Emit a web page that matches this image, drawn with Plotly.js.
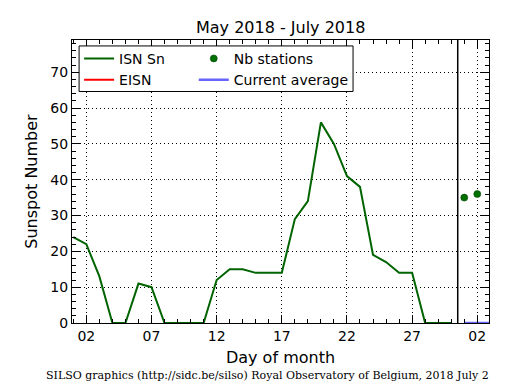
<!DOCTYPE html>
<html>
<head>
<meta charset="utf-8">
<script src="https://cdn.plot.ly/plotly-3.0.1.min.js"></script>
<style>html,body{margin:0;padding:0;background:#fff;}#chart{width:515px;height:390px;}</style>
</head>
<body>
<div id="chart"></div>
<script>
// Day index: 1..30 = June 1..30, 31 = July 1, 32 = July 2
const isnDays = [1,2,3,4,5,6,7,8,9,10,11,12,13,14,15,16,17,18,19,20,21,22,23,24,25,26,27,28,29,30];
const isnValues = [24,22,13,0,0,11,10,0,0,0,0,12,15,15,14,14,14,29,34,56,50,41,38,19,17,14,14,0,0,0];
const stationDays = [31,32];
const stationValues = [35,36];
const eisnDays = [31,32];
const eisnValues = [0,0];
const avgDays = [31,32.9];
const avgValues = [0,0];
const tickDays = [2,7,12,17,22,27,32];
const tickLabels = ['02','07','12','17','22','27','02'];
const currentDay = 30.5;

const font = 'DejaVu Sans, sans-serif';
const traces = [
  {x: isnDays, y: isnValues, name: 'ISN Sn', mode: 'lines', line: {color: '#006400', width: 2}, legend: 'legend'},
  {x: eisnDays, y: eisnValues, name: 'EISN', mode: 'lines', line: {color: '#ff0000', width: 2}, legend: 'legend'},
  {x: stationDays, y: stationValues, name: 'Nb stations', mode: 'markers', legend: 'legend2',
   marker: {color: '#007000', size: 7, line: {color: '#003300', width: 0.5}}},
  {x: avgDays, y: avgValues, name: 'Current average', mode: 'lines', line: {color: '#6666ff', width: 2.5}, legend: 'legend2'},
  {x: [], y: [], xaxis: 'x2', yaxis: 'y2', showlegend: false, hoverinfo: 'skip', mode: 'lines'}
];

const gridDash = '1px,3px';
const axisCommon = {
  showline: true, linecolor: '#000', linewidth: 1, mirror: true,
  ticks: 'inside', ticklen: 8, tickcolor: '#000', tickwidth: 1,
  showgrid: true, gridcolor: '#000', gridwidth: 1, griddash: gridDash,
  zeroline: false, tickfont: {family: font, size: 14, color: '#000'}
};
const xRange = [0.9, 32.9];
const yRange = [0, 79];
const xMinor = {tickmode: 'linear', tick0: 0, dtick: 1, ticks: 'inside', ticklen: 4, tickcolor: '#000', showgrid: false};
const yMinor = {tickmode: 'linear', tick0: 0, dtick: 2, ticks: 'inside', ticklen: 4, tickcolor: '#000', showgrid: false};
const legendCommon = {
  orientation: 'v', yanchor: 'top', xanchor: 'left', y: 0.99,
  bgcolor: 'rgba(0,0,0,0)', borderwidth: 0, itemwidth: 30, tracegroupgap: 0,
  font: {family: font, size: 14, color: '#000'}
};

const layout = {
  width: 515, height: 390,
  margin: {l: 72, r: 26, t: 40, b: 67},
  paper_bgcolor: '#fff', plot_bgcolor: '#fff',
  title: {text: 'May 2018 - July 2018', font: {family: font, size: 16, color: '#000'},
          x: 0.545, xanchor: 'center', y: 0.93, yanchor: 'middle'},
  xaxis: Object.assign({}, axisCommon, {
    range: xRange, tickmode: 'array', tickvals: tickDays, ticktext: tickLabels,
    minor: xMinor,
    title: {text: 'Day of month', font: {family: font, size: 16, color: '#000'}, standoff: 9}
  }),
  yaxis: Object.assign({}, axisCommon, {
    range: yRange, tickmode: 'linear', tick0: 0, dtick: 10,
    minor: yMinor,
    title: {text: 'Sunspot Number', font: {family: font, size: 16, color: '#000'}, standoff: 8}
  }),
  xaxis2: {overlaying: 'x', anchor: 'y', side: 'top', range: xRange, showticklabels: false,
    tickmode: 'array', tickvals: tickDays, ticks: 'inside', ticklen: 8, tickcolor: '#000',
    showgrid: false, zeroline: false, showline: false, minor: xMinor},
  yaxis2: {overlaying: 'y', anchor: 'x', side: 'right', range: yRange, showticklabels: false,
    tickmode: 'linear', tick0: 0, dtick: 10, ticks: 'inside', ticklen: 8, tickcolor: '#000',
    showgrid: false, zeroline: false, showline: false, minor: yMinor},
  showlegend: true,
  legend: Object.assign({}, legendCommon, {x: 0.017}),
  legend2: Object.assign({}, legendCommon, {x: 0.292}),
  shapes: [
    {type: 'line', xref: 'x', yref: 'paper', x0: currentDay, x1: currentDay, y0: 0, y1: 1,
     line: {color: '#000', width: 1.5}},
    {type: 'rect', xref: 'paper', yref: 'paper', x0: 0.017, x1: 0.674, y0: 0.818, y1: 0.979,
     fillcolor: '#fff', line: {color: '#000', width: 1}, layer: 'above'}
  ],
  annotations: [
    {text: 'SILSO graphics (http://sidc.be/silso) Royal Observatory of Belgium, 2018 July 2',
     xref: 'paper', yref: 'paper', x: 1.005, y: -0.185, xanchor: 'right', yanchor: 'middle',
     showarrow: false, font: {family: 'DejaVu Serif, serif', size: 11, color: '#000'}}
  ]
};

Plotly.newPlot('chart', traces, layout, {displayModeBar: false, staticPlot: true});
</script>
</body>
</html>
